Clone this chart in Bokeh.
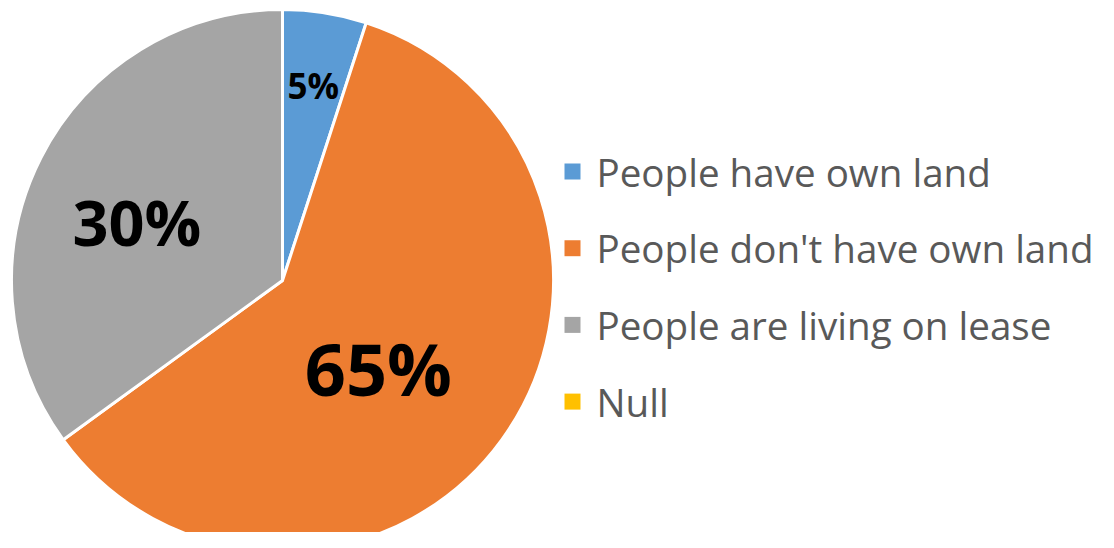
import math
from bokeh.plotting import figure
from bokeh.models import ColumnDataSource, Range1d
from bokeh.core.properties import value
from bokeh.embed import file_html
from bokeh.resources import INLINE

categories = ["People have own land", "People don't have own land",
              "People are living on lease", "Null"]
shares = [5, 60, 35, 0]          # slice sizes as drawn
labels = ["5%", "65%", "30%", ""]  # data labels as printed
colors = ["#5B9BD5", "#ED7D31", "#A5A5A5", "#FFC000"]

# styling
label_sizes = ["35px", "72px", "63px", "1px"]
label_radius = [197, 130, 157, 0]
label_angle_shift = [0, 6.5, -5, 0]

W, H = 1098, 532
p = figure(width=W, height=H, output_backend="svg", toolbar_location=None,
           x_range=Range1d(0, W), y_range=Range1d(0, H), min_border=0)
p.axis.visible = False
p.grid.visible = False
p.outline_line_color = None
p.background_fill_color = "white"
p.border_fill_color = "white"

cx, cy, R = 282, 252, 271
total = sum(shares)
starts, ends, cols, mids = [], [], [], []
cum = 0.0
for s, c in zip(shares, colors):
    a0 = cum / total * 2 * math.pi
    cum += s
    a1 = cum / total * 2 * math.pi
    mids.append((a0 + a1) / 2)
    if s > 0:
        starts.append(math.pi / 2 - a0)
        ends.append(math.pi / 2 - a1)
        cols.append(c)

wsrc = ColumnDataSource(dict(x=[cx] * len(starts), y=[cy] * len(starts),
                             start=starts, end=ends, color=cols))
p.wedge(x="x", y="y", radius=R, start_angle="start", end_angle="end",
        direction="clock", fill_color="color", line_color="white",
        line_width=3, source=wsrc)

for lab, m, r, sh, fs in zip(labels, mids, label_radius, label_angle_shift, label_sizes):
    if not lab:
        continue
    ang = m + math.radians(sh)
    lx = cx + r * math.sin(ang)
    ly = cy + r * math.cos(ang)
    p.text(x=[lx], y=[ly], text=[lab], text_font=value("Open Sans"),
           text_font_style="bold", text_font_size=fs, text_color="black",
           text_align="center", text_baseline="middle")

# legend
lx0, ly0, step = 572, 532 - 171, 76.7
ys = [ly0 - i * step for i in range(len(categories))]
p.rect(x=[lx0] * len(categories), y=ys, width=16, height=16,
       fill_color=colors, line_color=None)
p.text(x=[lx0 + 24] * len(categories), y=ys, text=categories,
       text_font=value("Open Sans"), text_font_size="38.6px",
       text_color="#595959", text_align="left", text_baseline="middle")

open("out.html", "w").write(file_html(p, INLINE))
